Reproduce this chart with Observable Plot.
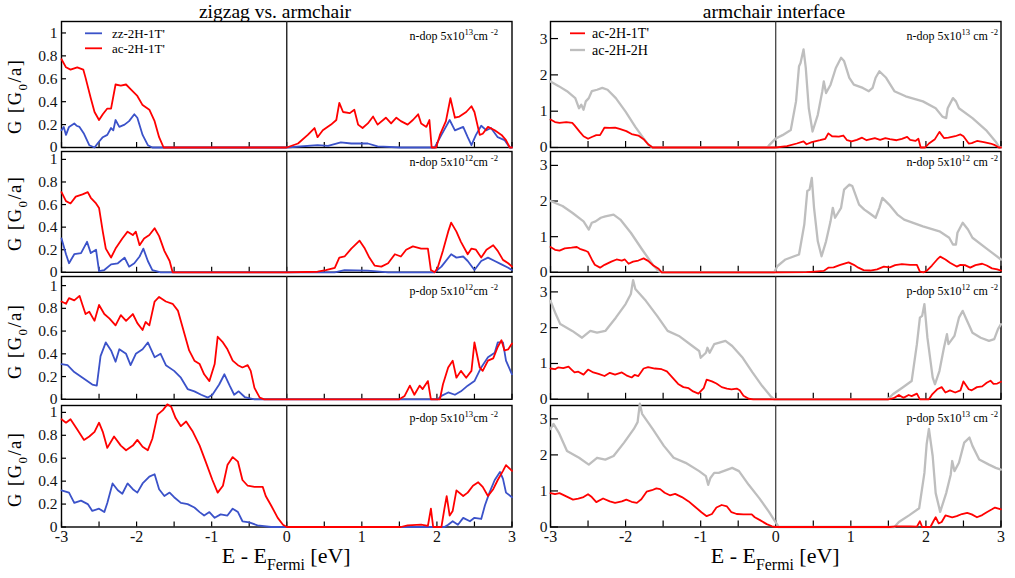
<!DOCTYPE html>
<html><head><meta charset="utf-8">
<script src="https://cdn.jsdelivr.net/npm/d3@7"></script>
<script src="https://cdn.jsdelivr.net/npm/@observablehq/plot@0.6"></script>
<style>
body{margin:0;background:#fff;}
#chart{position:relative;width:1015px;height:578px;overflow:hidden;background:#fff;}
#chart svg text{font-family:'Liberation Serif','Times New Roman',serif;}
</style></head><body><div id="chart"></div>
<script>
// ---------------- DATA ----------------
const titles = ["zigzag vs. armchair", "armchair interface"];
const leftLegend = ["zz-2H-1T'", "ac-2H-1T'"];
const rightLegend = ["ac-2H-1T'", "ac-2H-2H"];
const dopType = ["n-dop", "n-dop", "p-dop", "p-dop"];
const dopExp = ["13", "12", "12", "13"];
const energyTicks = [-3, -2, -1, 0, 1, 2, 3];
const energyMinorTicks = [-3, -2.5, -2, -1.5, -1, -0.5, 0, 0.5, 1, 1.5, 2, 2.5, 3];
const leftYTicks = [0, 0.2, 0.4, 0.6, 0.8, 1];
const rightYTicks = [0, 1, 2, 3];

// n-dop 5x10^13
const zzN13 = [[-3.00,.15],[-2.97,.18],[-2.94,.11],[-2.90,.18],[-2.83,.21],[-2.80,.19],[-2.76,.18],[-2.70,.12],[-2.63,.02],[-2.56,0],[-2.52,.035],[-2.45,.09],[-2.39,.11],[-2.34,.17],[-2.31,.15],[-2.28,.24],[-2.23,.18],[-2.16,.20],[-2.10,.23],[-2.03,.29],[-1.99,.26],[-1.92,.11],[-1.85,.02],[-1.79,0],[0,0],[0.41,.02],[0.55,.015],[0.72,.045],[0.86,.035],[1.08,.035],[1.21,.01],[1.52,0],[1.97,0],[2.06,.11],[2.17,.24],[2.24,.15],[2.35,.18],[2.41,.09],[2.46,.02],[2.52,.11],[2.59,.19],[2.66,.15],[2.72,.17],[2.81,.09],[2.90,.065],[2.97,0],[3,0]];
const acN13 = [[-3.00,.77],[-2.94,.70],[-2.88,.68],[-2.79,.70],[-2.71,.68],[-2.68,.61],[-2.61,.43],[-2.56,.31],[-2.50,.24],[-2.45,.29],[-2.39,.34],[-2.34,.34],[-2.28,.55],[-2.21,.54],[-2.14,.55],[-2.08,.51],[-1.99,.45],[-1.92,.37],[-1.83,.33],[-1.76,.23],[-1.70,.09],[-1.64,0],[0,0],[0.15,.035],[0.28,.11],[0.37,.17],[0.41,.09],[0.48,.15],[0.59,.20],[0.66,.24],[0.70,.39],[0.75,.31],[0.84,.30],[0.90,.33],[0.95,.20],[1.01,.17],[1.08,.21],[1.15,.27],[1.21,.20],[1.32,.26],[1.39,.21],[1.46,.26],[1.52,.23],[1.61,.20],[1.68,.24],[1.75,.29],[1.79,.21],[1.86,.18],[1.90,.24],[1.93,0],[1.99,0],[2.04,.11],[2.12,.23],[2.18,.43],[2.24,.26],[2.30,.27],[2.39,.31],[2.46,.36],[2.50,.31],[2.57,.11],[2.61,.12],[2.68,.18],[2.77,.15],[2.86,.11],[2.92,.065],[2.97,0],[3,0]];
const hhN13 = [[-3.00,1.82],[-2.89,1.69],[-2.78,1.55],[-2.67,1.36],[-2.62,1.08],[-2.59,1.18],[-2.56,1.04],[-2.53,1.27],[-2.49,1.36],[-2.45,1.55],[-2.38,1.59],[-2.31,1.64],[-2.24,1.59],[-2.13,1.36],[-2.00,0.99],[-1.87,0.57],[-1.76,0.25],[-1.69,0.06],[-1.64,0],[-0.11,0],[-0.09,.06],[0.00,.25],[0.09,.34],[0.20,.48],[0.27,1.27],[0.31,2.24],[0.33,2.33],[0.37,2.70],[0.40,2.19],[0.44,1.08],[0.49,0.44],[0.56,0.90],[0.62,1.55],[0.64,1.82],[0.67,1.50],[0.73,1.73],[0.80,2.19],[0.87,2.47],[0.91,2.38],[0.98,1.92],[1.04,1.73],[1.16,1.64],[1.24,1.55],[1.29,1.64],[1.33,1.92],[1.38,2.10],[1.47,1.92],[1.58,1.55],[1.73,1.41],[1.96,1.27],[2.13,1.08],[2.22,0.85],[2.27,0.81],[2.29,1.08],[2.36,1.36],[2.40,1.27],[2.44,1.08],[2.62,0.81],[2.80,0.48],[2.93,0.16],[2.98,0],[3,0]];

// n-dop 5x10^12
const zzN12 = [[-3.00,.30],[-2.94,.16],[-2.90,.08],[-2.83,.16],[-2.74,.17],[-2.66,.27],[-2.61,.17],[-2.54,.20],[-2.50,.01],[-2.43,.02],[-2.34,.07],[-2.25,.08],[-2.16,.13],[-2.10,.05],[-2.03,.08],[-1.96,.14],[-1.91,.21],[-1.85,.10],[-1.79,.02],[-1.68,0],[0,0],[0.64,0],[0.77,.02],[1.08,.015],[1.35,0],[1.97,0],[2.06,.05],[2.19,.16],[2.26,.13],[2.35,.14],[2.41,.10],[2.50,.02],[2.59,.10],[2.68,.13],[2.77,.10],[2.86,.07],[2.95,.04],[3.00,.02]];
const acN12 = [[-3.00,.71],[-2.94,.63],[-2.88,.61],[-2.81,.67],[-2.72,.69],[-2.65,.71],[-2.61,.66],[-2.54,.61],[-2.50,.57],[-2.45,.36],[-2.41,.21],[-2.34,.13],[-2.28,.21],[-2.19,.30],[-2.12,.36],[-2.05,.33],[-2.01,.36],[-1.96,.24],[-1.90,.30],[-1.83,.33],[-1.76,.39],[-1.70,.32],[-1.63,.19],[-1.56,.10],[-1.52,0],[0,0],[0.41,.005],[0.52,.02],[0.64,.04],[0.70,.13],[0.77,.14],[0.86,.21],[0.97,.28],[1.04,.21],[1.10,.13],[1.17,.06],[1.26,.05],[1.35,.08],[1.44,.16],[1.52,.14],[1.59,.20],[1.68,.23],[1.79,.21],[1.88,.21],[1.92,.02],[1.97,0],[2.01,.04],[2.08,.19],[2.15,.36],[2.19,.44],[2.26,.36],[2.32,.27],[2.41,.16],[2.46,.21],[2.52,.20],[2.59,.13],[2.66,.20],[2.75,.24],[2.81,.19],[2.88,.11],[2.95,.08],[3.00,.05]];
const hhN12 = [[-3.00,2.0],[-2.84,1.86],[-2.71,1.67],[-2.56,1.43],[-2.49,1.20],[-2.45,1.39],[-2.40,1.43],[-2.33,1.53],[-2.27,1.57],[-2.16,1.62],[-2.07,1.48],[-1.93,1.11],[-1.78,0.64],[-1.64,0.22],[-1.56,0.03],[-1.51,0],[-0.02,0],[0.02,.17],[0.13,.36],[0.31,.50],[0.38,1.34],[0.42,2.28],[0.45,2.32],[0.48,2.65],[0.51,1.81],[0.56,0.87],[0.61,0.45],[0.67,0.87],[0.73,1.43],[0.76,1.81],[0.79,1.53],[0.87,1.81],[0.91,2.32],[0.98,2.46],[1.02,2.42],[1.11,1.90],[1.18,1.76],[1.24,1.67],[1.33,1.53],[1.38,1.81],[1.42,2.09],[1.51,1.90],[1.62,1.62],[1.71,1.48],[1.96,1.29],[2.18,1.15],[2.31,0.97],[2.36,0.78],[2.40,0.78],[2.42,1.11],[2.49,1.39],[2.56,1.20],[2.62,0.97],[2.80,0.68],[3.00,0.36]];

// p-dop 5x10^12
const zzP12 = [[-3.00,.31],[-2.92,.30],[-2.83,.24],[-2.70,.18],[-2.59,.13],[-2.53,.12],[-2.48,.38],[-2.41,.50],[-2.34,.43],[-2.28,.33],[-2.23,.44],[-2.14,.40],[-2.08,.30],[-2.01,.40],[-1.92,.44],[-1.85,.50],[-1.76,.37],[-1.68,.40],[-1.61,.30],[-1.50,.25],[-1.41,.19],[-1.32,.09],[-1.23,.07],[-1.14,.04],[-1.05,.015],[-0.99,.04],[-0.90,.13],[-0.83,.22],[-0.76,.12],[-0.70,.04],[-0.64,.07],[-0.56,.02],[-0.43,0],[2.01,0],[2.06,.03],[2.15,.06],[2.24,.04],[2.32,.07],[2.41,.12],[2.50,.16],[2.59,.28],[2.68,.37],[2.77,.41],[2.81,.50],[2.88,.50],[2.92,.34],[3.00,.22]];
const acP12 = [[-3.00,.86],[-2.94,.84],[-2.90,.89],[-2.83,.87],[-2.76,.91],[-2.72,.83],[-2.68,.75],[-2.63,.77],[-2.56,.69],[-2.50,.83],[-2.43,.75],[-2.36,.71],[-2.28,.65],[-2.21,.74],[-2.14,.69],[-2.05,.75],[-1.99,.67],[-1.92,.61],[-1.88,.68],[-1.83,.65],[-1.76,.86],[-1.70,.90],[-1.61,.86],[-1.52,.84],[-1.45,.78],[-1.39,.64],[-1.30,.43],[-1.23,.34],[-1.16,.31],[-1.10,.22],[-1.03,.16],[-0.96,.31],[-0.92,.55],[-0.85,.50],[-0.79,.44],[-0.72,.34],[-0.65,.30],[-0.59,.28],[-0.52,.30],[-0.48,.25],[-0.43,.10],[-0.36,.015],[-0.30,0],[1.50,0],[1.57,.03],[1.64,.12],[1.70,.04],[1.77,.12],[1.81,.09],[1.88,.16],[1.92,0],[2.04,0],[2.08,.13],[2.15,.28],[2.21,.34],[2.26,.19],[2.32,.25],[2.39,.19],[2.46,.25],[2.50,.50],[2.57,.28],[2.61,.25],[2.68,.34],[2.75,.36],[2.81,.46],[2.86,.52],[2.90,.43],[2.95,.44],[3.00,.49]];
const hhP12 = [[-3.00,2.75],[-2.93,2.38],[-2.87,2.10],[-2.71,1.91],[-2.58,1.72],[-2.47,1.91],[-2.38,1.86],[-2.27,1.91],[-2.13,2.28],[-2.00,2.66],[-1.93,2.94],[-1.90,3.33],[-1.87,3.08],[-1.73,2.75],[-1.58,2.33],[-1.44,1.91],[-1.29,1.77],[-1.11,1.49],[-1.02,1.35],[-1.00,1.16],[-0.93,1.30],[-0.91,1.44],[-0.88,1.30],[-0.82,1.54],[-0.67,1.63],[-0.58,1.49],[-0.44,1.16],[-0.31,0.75],[-0.18,0.37],[-0.07,0.09],[-0.02,0],[1.49,0],[1.56,.14],[1.69,.33],[1.81,.51],[1.88,1.54],[1.92,2.28],[1.95,2.33],[1.98,2.66],[2.02,1.72],[2.09,0.61],[2.12,0.42],[2.18,0.79],[2.24,1.44],[2.28,1.82],[2.30,1.54],[2.38,1.77],[2.44,2.28],[2.49,2.47],[2.53,2.28],[2.62,1.86],[2.73,1.72],[2.84,1.63],[2.91,1.68],[2.96,1.96],[3.00,2.10]];

// p-dop 5x10^13
const zzP13 = [[-3.00,.32],[-2.90,.30],[-2.83,.21],[-2.74,.23],[-2.65,.20],[-2.59,.14],[-2.50,.16],[-2.43,.13],[-2.39,.21],[-2.32,.38],[-2.25,.32],[-2.19,.29],[-2.12,.38],[-2.05,.33],[-1.99,.30],[-1.92,.38],[-1.83,.44],[-1.76,.46],[-1.70,.33],[-1.63,.27],[-1.56,.30],[-1.50,.26],[-1.41,.21],[-1.32,.20],[-1.23,.17],[-1.16,.13],[-1.10,.10],[-1.03,.13],[-0.96,.08],[-0.88,.11],[-0.79,.10],[-0.72,.16],[-0.65,.13],[-0.59,.05],[-0.50,.04],[-0.39,.015],[-0.21,0],[2.10,0],[2.15,.02],[2.21,.05],[2.28,.02],[2.35,.08],[2.44,.05],[2.50,.08],[2.59,.07],[2.64,.19],[2.70,.30],[2.77,.41],[2.84,.48],[2.88,.42],[2.92,.30],[3.00,.26]];
const acP13 = [[-3.00,.94],[-2.94,.91],[-2.88,.94],[-2.79,.85],[-2.70,.76],[-2.63,.79],[-2.56,.83],[-2.50,.91],[-2.45,.83],[-2.39,.69],[-2.30,.79],[-2.21,.71],[-2.14,.67],[-2.05,.71],[-1.99,.76],[-1.92,.70],[-1.85,.67],[-1.79,.77],[-1.72,.98],[-1.65,1.02],[-1.59,1.07],[-1.54,1.05],[-1.48,.95],[-1.41,.88],[-1.34,.92],[-1.25,.83],[-1.16,.71],[-1.08,.57],[-0.99,.41],[-0.92,.30],[-0.85,.36],[-0.79,.54],[-0.72,.61],[-0.65,.57],[-0.59,.41],[-0.52,.36],[-0.43,.35],[-0.32,.35],[-0.28,.27],[-0.21,.19],[-0.12,.08],[-0.05,.02],[0,0],[1.52,0],[1.61,.015],[1.79,.02],[1.88,.01],[1.92,.16],[1.95,0],[2.06,0],[2.10,.16],[2.13,.27],[2.17,.10],[2.21,.14],[2.26,.32],[2.35,.27],[2.41,.30],[2.48,.36],[2.55,.39],[2.61,.35],[2.68,.27],[2.75,.33],[2.81,.41],[2.88,.49],[2.92,.54],[3.00,.49]];
const hhP13 = [[-3.00,2.72],[-2.96,2.86],[-2.89,2.62],[-2.78,2.11],[-2.62,1.92],[-2.49,1.73],[-2.38,1.92],[-2.27,1.87],[-2.16,1.97],[-2.02,2.34],[-1.89,2.72],[-1.84,2.91],[-1.81,3.42],[-1.78,3.14],[-1.64,2.72],[-1.49,2.25],[-1.36,1.92],[-1.20,1.78],[-1.02,1.55],[-0.93,1.41],[-0.90,1.17],[-0.87,1.36],[-0.82,1.50],[-0.76,1.50],[-0.58,1.64],[-0.49,1.55],[-0.36,1.17],[-0.22,0.80],[-0.09,0.42],[-0.02,0.19],[0.04,0],[1.58,0],[1.64,.14],[1.78,.33],[1.91,.52],[1.98,1.50],[2.01,2.30],[2.04,2.72],[2.09,1.97],[2.13,0.94],[2.19,0.42],[2.27,0.94],[2.33,1.45],[2.35,1.83],[2.38,1.55],[2.44,1.78],[2.51,2.34],[2.58,2.48],[2.62,2.25],[2.71,1.87],[2.84,1.73],[2.93,1.64],[3.00,1.59]];

const leftSeries = [[zzN13, acN13], [zzN12, acN12], [zzP12, acP12], [zzP13, acP13]];
const rightSeries = [[hhN13, acN13], [hhN12, acN12], [hhP12, acP12], [hhP13, acP13]];

// ---------------- LAYOUT / STYLE ----------------
const FONT = "'Liberation Serif','Times New Roman',serif";
const BLUE = "#3b52c9", RED = "#ff0000", GRAY = "#bebebe";
const cols = [
  {x0: 61, x1: 511.5, yticks: leftYTicks, ytick: 5, xtick: 5, zeroW: 1.4, colors: [BLUE, RED], widths: [1.8, 1.8]},
  {x0: 550, x1: 1000.5, yticks: rightYTicks, ytick: 8, xtick: 6, zeroW: 1.1, colors: [GRAY, RED], widths: [2.3, 1.8]}
];
const rows = [
  {top: 20.7, bottom: 146.7, ymax: [1.1, 3.47], ann: 40, ylab: 97},
  {top: 150.7, bottom: 271.5, ymax: [1.07, 3.39], ann: 166, ylab: 214},
  {top: 275.7, bottom: 398.5, ymax: [1.08, 3.43], ann: 295, ylab: 342},
  {top: 405, bottom: 526.5, ymax: [1.06, 3.37], ann: 422, ylab: 470}
];

const chart = document.getElementById("chart");

function panel(ci, ri) {
  const c = cols[ci], r = rows[ri];
  const series = ci === 0 ? leftSeries[ri] : rightSeries[ri];
  const last = ri === rows.length - 1;
  const mL = 40, mR = 4, mT = 2, mB = last ? 28 : 2;
  const w = c.x1 - c.x0, h = r.bottom - r.top;
  const marks = [
    Plot.frame({stroke: "#000", strokeWidth: 1.4}),
    Plot.tickY(c.yticks, {y: d => d, insetRight: w - c.ytick, stroke: "#000", strokeWidth: 1.2}),
    Plot.tickX(energyMinorTicks, {x: d => d, insetTop: h - c.xtick, stroke: "#000", strokeWidth: 1.2}),
    Plot.ruleX([0], {stroke: "#222", strokeWidth: c.zeroW}),
    Plot.axisY(c.yticks, {anchor: "left", tickSize: 0, tickPadding: ci === 0 ? 4 : 3, tickFormat: d => String(d), fontSize: 15.5, fontFamily: FONT, label: null, fill: "#111"}),
    ...series.map((s, i) => Plot.line(s, {x: d => d[0], y: d => d[1], stroke: c.colors[i], strokeWidth: c.widths[i], strokeLinejoin: "round"}))
  ];
  if (last) marks.push(Plot.axisX(energyTicks, {anchor: "bottom", tickSize: 0, tickPadding: 4, tickFormat: d => String(d), fontSize: 16, fontFamily: FONT, label: null, fill: "#111"}));
  const svg = Plot.plot({
    width: w + mL + mR, height: h + mT + mB,
    marginLeft: mL, marginRight: mR, marginTop: mT, marginBottom: mB,
    x: {domain: [-3, 3], axis: last ? undefined : null},
    y: {domain: [0, r.ymax[ci]]},
    style: {background: "none", fontFamily: FONT, fontSize: "16px", overflow: "visible", color: "#000"},
    marks
  });
  svg.style.position = "absolute";
  svg.style.left = (c.x0 - mL) + "px";
  svg.style.top = (r.top - mT) + "px";
  chart.appendChild(svg);
}
for (let ci = 0; ci < 2; ci++) for (let ri = 0; ri < 4; ri++) panel(ci, ri);

// ---------------- TEXT OVERLAY ----------------
const ov = d3.select(chart).append("svg")
  .attr("width", 1015).attr("height", 578)
  .style("position", "absolute").style("left", 0).style("top", 0)
  .style("font-family", FONT).style("pointer-events", "none");

function rich(x, y, parts, size, anchor, extra) {
  const t = ov.append("text").attr("x", x).attr("y", y).attr("font-size", size)
    .attr("text-anchor", anchor || "start").attr("fill", "#000");
  let shift = 0;
  for (const p of parts) {
    const s = typeof p === "string" ? {t: p} : p;
    const target = s.sub ? 0.3 * size : s.sup ? -0.45 * size : 0;
    const ts = t.append("tspan").text(s.t).attr("dy", target - shift);
    if (s.sub || s.sup) ts.attr("font-size", size * (s.scale || 0.7));
    shift = target;
  }
  if (extra) extra(t);
  return t;
}

// titles
rich(275, 17.5, [titles[0]], 19.5, "middle");
rich(774, 17.5, [titles[1]], 19.5, "middle");

// x axis titles
for (const c of cols) {
  const cx = (c.x0 + c.x1) / 2;
  rich(cx, 563, ["E - E", {t: "Fermi", sub: true, scale: 0.72}, " [eV]"], 22, "middle");
}

// y axis titles
for (const r of rows) {
  rich(0, 0, ["G [G", {t: "0", sub: true}, "/a]"], 18.5, "middle",
    t => t.attr("transform", `translate(21,${r.ylab}) rotate(-90)`).attr("textLength", 74).attr("lengthAdjust", "spacing"));
}

// annotations
rows.forEach((r, i) => {
  rich(498, r.ann, [dopType[i] + " 5x10", {t: dopExp[i], sup: true, scale: 0.72}, "cm ", {t: "-2", sup: true, scale: 0.72}], 12, "end");
  rich(998, r.ann, [dopType[i] + " 5x10", {t: dopExp[i], sup: true, scale: 0.72}, " cm ", {t: "-2", sup: true, scale: 0.72}], 12, "end");
});

// legends
const legends = [
  {x: 85, len: 17, tx: 112, ys: [33.3, 48.3], labels: leftLegend, colors: [BLUE, RED], widths: [1.8, 1.8], size: 13},
  {x: 570, len: 15, tx: 592, ys: [33.3, 50], labels: rightLegend, colors: [RED, GRAY], widths: [1.8, 2.3], size: 14}
];
for (const L of legends) {
  L.labels.forEach((lab, i) => {
    ov.append("line").attr("x1", L.x).attr("x2", L.x + L.len).attr("y1", L.ys[i]).attr("y2", L.ys[i])
      .attr("stroke", L.colors[i]).attr("stroke-width", L.widths[i]);
    rich(L.tx, L.ys[i] + 4.5, [lab], L.size, "start");
  });
}
</script></body></html>
